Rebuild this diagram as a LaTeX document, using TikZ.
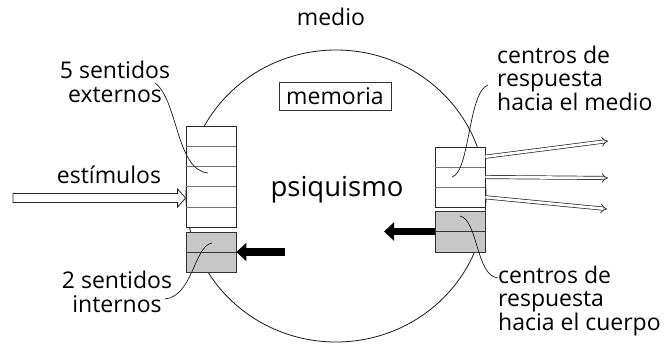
\documentclass[tikz,border=0pt]{standalone}
\usepackage{fontspec}
\setmainfont{Open Sans}
\usetikzlibrary{arrows.meta,calc}
\tikzset{
  lbl/.style={inner sep=0pt, font=\fontsize{23}{23.5}\selectfont},
  boxw/.style={draw=black!85, fill=white, line width=0.8pt, minimum width=50pt, inner sep=0pt},
  boxg/.style={draw=black!80, fill=black!22, line width=0.8pt, minimum width=50pt, inner sep=0pt},
  rowline/.style={draw=black!55, line width=0.7pt},
  midline/.style={draw=black!80, line width=1pt},
  leader/.style={draw=black!90, line width=0.7pt},
  hollow/.style={draw=black!85, fill=white, line width=0.8pt, line join=miter},
  dbl/.style={draw=black!85, double=white, double distance=2.6pt, line width=0.7pt, -{Implies[scale=1.6]}},
  blk/.style={draw=black, line width=7.5pt, -{Triangle[length=10pt,width=18pt]}},
}
\begin{document}
\begin{tikzpicture}[x=1pt,y=-1pt]
\useasboundingbox (0,0) rectangle (669,343);
% psychism circle
\draw[line width=0.8pt, draw=black!90] (336,196) ellipse [x radius=150, y radius=146];
% boxes
\node[boxw, minimum height=101pt] (lb) at (211,176.5) {};
\node[boxg, minimum height=40pt] (lg) at (211,252) {};
\node[boxw, minimum height=60pt] (rb) at (460,177) {};
\node[boxg, minimum height=41pt] (rg) at (460,231.5) {};
\foreach \f in {0.2,0.4,0.6,0.8}
  \draw[rowline] ($(lb.north west)!\f!(lb.south west)$) -- ($(lb.north east)!\f!(lb.south east)$);
\foreach \f in {0.3333,0.6667}
  \draw[rowline] ($(rb.north west)!\f!(rb.south west)$) -- ($(rb.north east)!\f!(rb.south east)$);
\draw[midline] (lg.west) -- (lg.east);
\draw[midline] (rg.west) -- (rg.east);
% texts
\node[lbl, anchor=base] (medio) at (331,25) {medio};
\node[lbl, draw=black!80, line width=0.6pt, minimum width=112pt, minimum height=28pt] (mem) at (335,96) {memoria};
\node[inner sep=0pt, font=\fontsize{27.5}{30}\selectfont, anchor=base] (psi) at (337,196) {psiquismo};
\node[lbl, anchor=base, align=center] (ext) at (115,102) {5 sentidos\\externos};
\node[lbl, anchor=base] (stim) at (109,183) {estímulos};
\node[lbl, anchor=base, align=center] (int) at (117,312) {2 sentidos\\internos};
\node[lbl, anchor=base west, align=left] (rtop) at (497,110) {centros de\\respuesta\\hacia el medio};
\node[lbl, anchor=base west, align=left] (rbot) at (498,330) {centros de\\respuesta\\hacia el cuerpo};
% stimulus arrow
\coordinate (sa) at (13,198);
\coordinate (st) at (lb.west |- sa);
\draw[hollow] ($(sa)+(0,-4.5)$) -- ($(st)+(-8,-4.5)$) -- ($(st)+(-8,-9)$) -- (st)
  -- ($(st)+(-8,9)$) -- ($(st)+(-8,4.5)$) -- ($(sa)+(0,4.5)$) -- cycle;
% response arrows
\coordinate (e1) at (608,141);
\coordinate (e2) at (608,178);
\coordinate (e3) at (607,209);
\draw[dbl] ($(rb.north east)!0.1667!(rb.south east)$) -- (e1);
\draw[dbl] ($(rb.north east)!0.5!(rb.south east)$) -- (e2);
\draw[dbl] ($(rb.north east)!0.8333!(rb.south east)$) -- (e3);
% black arrows
\coordinate (b1) at (285,252);
\draw[blk] (b1) -- (lg.east);
\coordinate (b2) at (384,231.5);
\draw[blk] (rg.west) -- (b2);
% leaders
\coordinate (l1a) at (155,83);
\coordinate (l1b) at (208,173);
\draw[leader] (l1a) .. controls (178,100) and (176,170) .. (l1b);
\coordinate (l2a) at (212,243);
\coordinate (l2b) at (165,299);
\draw[leader] (l2a) .. controls (194,246) and (193,296) .. (l2b);
\coordinate (l3a) at (488,85);
\coordinate (l3b) at (452,177);
\draw[leader] (l3a) .. controls (468,92) and (470,172) .. (l3b);
\coordinate (l4a) at (460,216);
\coordinate (l4b) at (498,278);
\draw[leader] (l4a) .. controls (478,220) and (476,276) .. (l4b);
\end{tikzpicture}
\end{document}
